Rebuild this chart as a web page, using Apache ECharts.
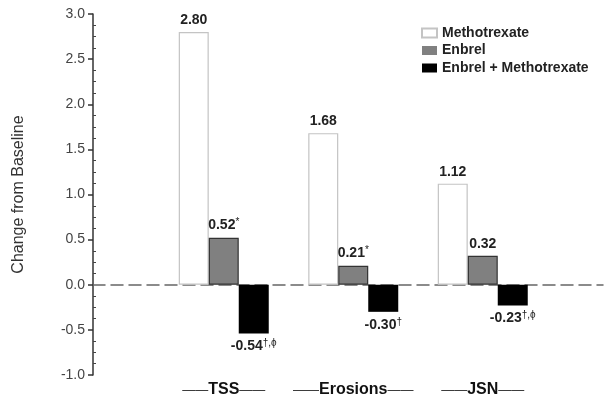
<!DOCTYPE html>
<html>
<head>
<meta charset="utf-8">
<script src="https://cdn.jsdelivr.net/npm/echarts@6/dist/echarts.min.js"></script>
<style>
  html, body { margin: 0; padding: 0; background: #fff; }
  #chart { width: 614px; height: 404px; }
</style>
</head>
<body>
<div id="chart"></div>
<script>
const categories = ["TSS", "Erosions", "JSN"];
const methotrexate = [2.80, 1.68, 1.12];
const enbrel = [0.52, 0.21, 0.32];
const combo = [-0.54, -0.30, -0.23];
const methotrexateMarks = ["", "", ""];
const enbrelMarks = ["*", "*", ""];
const comboMarks = ["\u2020,\u03d5", "\u2020", "\u2020,\u03d5"];

const FONT = "'Liberation Sans', Arial, sans-serif";

const labelRich = {
    v: { fontFamily: FONT, fontSize: 14, fontWeight: "bold", color: "#222" },
    s: { fontFamily: FONT, fontSize: 10, color: "#222", padding: [0, 0, 6, 0] },
};

function valueLabel(marks, position) {
    return {
        show: true,
        position,
        distance: 5,
        formatter: (p) => {
            let mark = marks[p.dataIndex];
            let txt = `{v|${p.value.toFixed(2)}}`;
            return mark ? txt + `{s|${mark}}` : txt;
        },
        rich: labelRich,
    };
}

const barOptions = {
    type: "bar",
    xAxisIndex: 1,
    yAxisIndex: 2,
    barWidth: 30,
    barGap: "0%",
};

let chart = echarts.init(document.getElementById("chart"));

let option = {
    animation: false,
    grid: [
        { left: 93, right: 11, top: 14, bottom: 29 },
        { left: 159, right: 66.5, top: 14, bottom: 29 },
    ],
    legend: {
        left: 421,
        top: 26,
        padding: 0,
        orient: "vertical",
        icon: "rect",
        itemWidth: 15,
        itemHeight: 9,
        itemGap: 3.5,
        textStyle: { fontFamily: FONT, fontSize: 14, fontWeight: "bold", color: "#222" },
        data: [
            "Methotrexate",
            { name: "Enbrel", itemStyle: { borderWidth: 0 } },
            "Enbrel + Methotrexate",
        ],
    },
    xAxis: [
        {
            // dashed baseline at zero
            gridIndex: 0,
            type: "value",
            min: 0,
            max: 1,
            axisLine: {
                show: true,
                onZero: true,
                onZeroAxisIndex: 0,
                lineStyle: { color: "#666", width: 1.5, type: [12, 6] },
            },
            axisTick: { show: false },
            axisLabel: { show: false },
            splitLine: { show: false },
        },
        {
            gridIndex: 1,
            type: "category",
            data: categories,
            axisLine: { show: false, onZero: false },
            axisTick: { show: false },
            axisLabel: {
                interval: 0,
                hideOverlap: false,
                margin: 7,
                formatter: (v) => `{d|——}{t|${v}}{d|——}`,
                rich: {
                    d: { fontFamily: FONT, fontSize: 13, color: "#222" },
                    t: { fontFamily: FONT, fontSize: 16, fontWeight: "bold", color: "#111" },
                },
            },
        },
    ],
    yAxis: [
        {
            gridIndex: 0,
            type: "value",
            position: "left",
            min: -1,
            max: 3,
            interval: 0.5,
            name: "Change from Baseline",
            nameLocation: "middle",
            nameGap: 66,
            nameTextStyle: { fontFamily: FONT, fontSize: 16, color: "#333" },
            axisLine: { show: true, lineStyle: { color: "#333", width: 1.5 } },
            axisTick: { show: true, length: 5, lineStyle: { color: "#333", width: 1.5 } },
            axisLabel: {
                margin: 8,
                fontFamily: FONT,
                fontSize: 14,
                color: "#444",
                formatter: (v) => v.toFixed(1),
            },
            splitLine: { show: false },
        },
        {
            // minor ticks inside
            gridIndex: 0,
            type: "value",
            position: "left",
            offset: 0,
            min: -1,
            max: 3,
            interval: 0.5,
            axisLine: { show: false },
            axisTick: { show: false, inside: true },
            minorTick: { show: true, splitNumber: 4, length: 3, lineStyle: { color: "#444", width: 1 } },
            axisLabel: { show: false },
            splitLine: { show: false },
        },
        {
            gridIndex: 1,
            type: "value",
            min: -1,
            max: 3,
            show: false,
            splitLine: { show: false },
        },
    ],
    series: [
        {
            name: "Methotrexate",
            data: methotrexate,
            ...barOptions,
            itemStyle: { color: "#ffffff", borderColor: "#c4c4c4", borderWidth: 1.2 },
            label: valueLabel(methotrexateMarks, "top"),
        },
        {
            name: "Enbrel",
            data: enbrel,
            ...barOptions,
            itemStyle: { color: "#808080", borderColor: "#333", borderWidth: 1.2 },
            label: valueLabel(enbrelMarks, "top"),
        },
        {
            name: "Enbrel + Methotrexate",
            data: combo,
            ...barOptions,
            itemStyle: { color: "#000000" },
            label: valueLabel(comboMarks, "bottom"),
        },
    ],
};

option && chart.setOption(option);
</script>
</body>
</html>
